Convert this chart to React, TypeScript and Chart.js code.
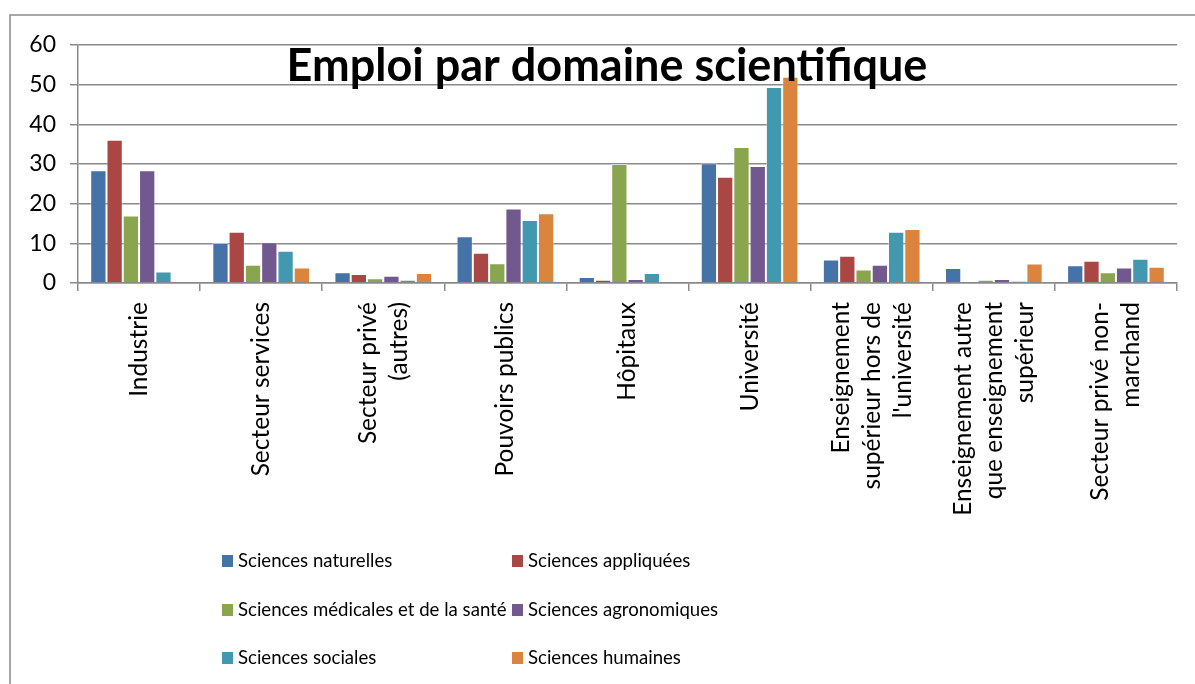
import React, { useEffect, useRef } from "react";
import { Chart, registerables } from "chart.js";
Chart.register(...registerables);

const categories: string[][] = [
  ["Industrie"],
  ["Secteur services"],
  ["Secteur privé", "(autres)"],
  ["Pouvoirs publics"],
  ["Hôpitaux"],
  ["Université"],
  ["Enseignement", "supérieur hors de", "l'université"],
  ["Enseignement autre", "que enseignement", "supérieur"],
  ["Secteur privé non-", "marchand"],
];

const seriesNames = [
  "Sciences naturelles",
  "Sciences appliquées",
  "Sciences médicales et de la santé",
  "Sciences agronomiques",
  "Sciences sociales",
  "Sciences humaines",
];

const naturelles = [28.4, 10.1, 2.7, 11.8, 1.5, 30.2, 5.9, 3.8, 4.5];
const appliquees = [36.1, 12.9, 2.3, 7.6, 0.8, 26.8, 6.9, 0, 5.6];
const medicales = [17.0, 4.6, 1.2, 5.0, 30.0, 34.3, 3.4, 0.8, 2.7];
const agronomiques = [28.4, 10.3, 1.8, 18.8, 1.0, 29.5, 4.6, 1.0, 3.9];
const sociales = [2.9, 8.1, 0.8, 15.9, 2.5, 49.4, 12.9, 0.5, 6.1];
const humaines = [0.3, 3.9, 2.5, 17.6, 0, 52.0, 13.6, 4.9, 4.1];

const seriesValues = [naturelles, appliquees, medicales, agronomiques, sociales, humaines];
const colors = ["#4572A7", "#AA4643", "#89A54E", "#71588F", "#4198AF", "#DB843D"];

const title = "Emploi par domaine scientifique";
const yMin = 0;
const yMax = 60;
const yStep = 10;

const FONT = "Lato, 'Open Sans', sans-serif";
const GRID = "#8a8a8a";

const framePlugin = {
  id: "frame",
  beforeDraw(chart: any) {
    const ctx = chart.ctx;
    ctx.save();
    ctx.fillStyle = "#ffffff";
    ctx.fillRect(0, 0, chart.width, chart.height);
    ctx.strokeStyle = GRID;
    ctx.lineWidth = 1.5;
    ctx.beginPath();
    ctx.moveTo(10, chart.height + 5);
    ctx.lineTo(10, 15);
    ctx.lineTo(chart.width + 5, 15);
    ctx.stroke();
    ctx.restore();
  },
};

const overlayPlugin = {
  id: "overlay",
  afterDraw(chart: any) {
    const ctx = chart.ctx;
    const xs = chart.scales.x;
    ctx.save();
    // x category labels, rotated, centred on each category
    ctx.fillStyle = "#000";
    ctx.font = `24.5px ${FONT}`;
    ctx.textAlign = "right";
    ctx.textBaseline = "middle";
    const lineH = 31;
    const top = 302;
    categories.forEach((lines, i) => {
      const cx = xs.getPixelForValue(i);
      const n = lines.length;
      lines.forEach((ln, j) => {
        const x = cx + (j - (n - 1) / 2) * lineH;
        ctx.save();
        ctx.translate(x, top);
        ctx.rotate(-Math.PI / 2);
        ctx.fillText(ln, 0, 0);
        ctx.restore();
      });
    });
    // title drawn over the plot
    ctx.font = `bold 45px ${FONT}`;
    ctx.textAlign = "center";
    ctx.textBaseline = "alphabetic";
    ctx.fillText(title, 607, 81);
    // legend in two columns
    const colX = [222, 512];
    const rowY = [561, 610, 658];
    ctx.font = `18.6px ${FONT}`;
    ctx.textAlign = "left";
    ctx.textBaseline = "middle";
    seriesNames.forEach((name, k) => {
      const x = colX[k % 2];
      const y = rowY[Math.floor(k / 2)];
      ctx.fillStyle = colors[k];
      ctx.fillRect(x, y - 6, 11, 12);
      ctx.fillStyle = "#000";
      ctx.fillText(name, x + 16, y);
    });
    ctx.restore();
  },
};

export default function App() {
  const ref = useRef<HTMLCanvasElement>(null);
  useEffect(() => {
    document.body.style.margin = "0";
    const chart = new Chart(ref.current as HTMLCanvasElement, {
      type: "bar",
      data: {
        labels: categories.map((c) => c.join(" ")),
        datasets: seriesNames.map((name, k) => ({
          label: name,
          data: seriesValues[k],
          backgroundColor: colors[k],
          borderColor: "rgba(255,255,255,0.45)",
          borderWidth: 1,
          categoryPercentage: 0.8,
          barPercentage: 1.0,
        })),
      },
      options: {
        responsive: false,
        animation: false,
        layout: { padding: { top: 45, right: 18, left: 0, bottom: 0 } },
        plugins: {
          legend: { display: false },
          title: { display: false },
          tooltip: { enabled: false },
        },
        scales: {
          x: {
            grid: {
              offset: true,
              drawOnChartArea: false,
              drawTicks: true,
              tickLength: 8,
              color: GRID,
              lineWidth: 1.5,
            },
            border: { display: true, color: GRID, width: 1.5 },
            ticks: { display: false },
            afterFit: (scale: any) => {
              scale.height = 401;
            },
          },
          y: {
            min: yMin,
            max: yMax,
            ticks: {
              stepSize: yStep,
              color: "#000",
              font: { family: FONT, size: 23 },
              padding: 14,
            },
            grid: { color: GRID, lineWidth: 1.5, tickLength: 8 },
            border: { display: true, color: GRID, width: 1.5 },
            afterFit: (scale: any) => {
              scale.width = 78;
            },
          },
        },
      },
      plugins: [framePlugin, overlayPlugin],
    });
    return () => chart.destroy();
  }, []);
  return (
    <div style={{ position: "absolute", left: 0, top: 0, width: 1195, height: 684, background: "#fff" }}>
      <canvas ref={ref} width={1195} height={684} style={{ display: "block" }} />
    </div>
  );
}
